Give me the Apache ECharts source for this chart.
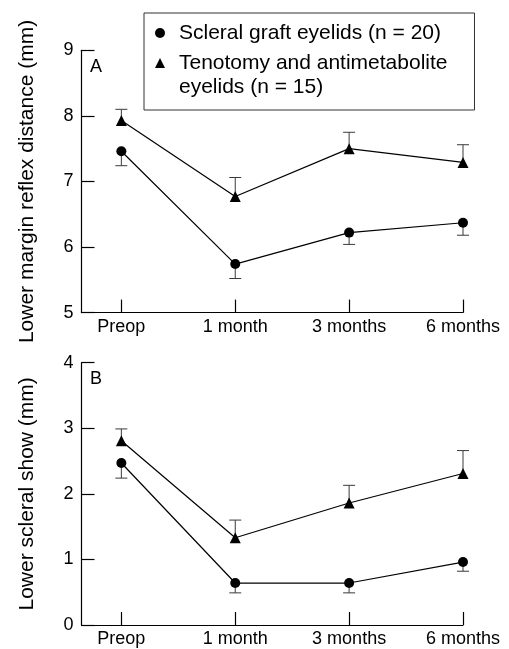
<!DOCTYPE html>
<html>
<head>
<meta charset="utf-8">
<script src="https://cdn.jsdelivr.net/npm/echarts@6/dist/echarts.min.js"></script>
<style>
html,body{margin:0;padding:0;background:#fff;}
#chart{width:509px;height:649px;}
</style>
</head>
<body>
<div id="chart"></div>
<script>
// Categories (time points)
const categories = ['Preop', '1 month', '3 months', '6 months'];
const seriesNames = ['Scleral graft eyelids (n = 20)', 'Tenotomy and antimetabolite\neyelids (n = 15)'];

// Panel A: lower margin reflex distance (mm)
const mrdScleral = [7.46, 5.74, 6.22, 6.37];
const mrdScleralErrLow = [7.24, 5.52, 6.04, 6.18];
const mrdTenotomy = [7.93, 6.77, 7.50, 7.29];
const mrdTenotomyErrHigh = [8.10, 7.06, 7.75, 7.56];

// Panel B: lower scleral show (mm)
const ssScleral = [2.47, 0.64, 0.64, 0.96];
const ssScleralErrLow = [2.24, 0.49, 0.49, 0.82];
const ssTenotomy = [2.81, 1.33, 1.86, 2.31];
const ssTenotomyErrHigh = [2.99, 1.60, 2.13, 2.66];

const tickValuesA = [5, 6, 7, 8, 9];
const tickValuesB = [0, 1, 2, 3, 4];

const FONT = '"Liberation Sans", Arial, Helvetica, sans-serif';
const chart = echarts.init(document.getElementById('chart'), null, {renderer: 'canvas'});

function pts(vals) { return vals.map((v, i) => [i, v]); }
function errPts(means, ends) { return means.map((v, i) => [i, v, ends[i]]); }

function errRender(params, api) {
  const x = api.value(0), m = api.value(1), e = api.value(2);
  const p0 = api.coord([x, m]);
  const p1 = api.coord([x, e]);
  const st = {stroke: '#3a3a3a', lineWidth: 1};
  return {
    type: 'group',
    children: [
      {type: 'line', shape: {x1: p0[0], y1: p0[1], x2: p1[0], y2: p1[1]}, style: st},
      {type: 'line', shape: {x1: p1[0] - 6, y1: p1[1], x2: p1[0] + 6, y2: p1[1]}, style: st}
    ]
  };
}

function xAxisDef(gridIndex) {
  return {
    type: 'value', gridIndex: gridIndex, min: -0.35, max: 3,
    splitLine: {show: false},
    axisLine: {show: true, onZero: false, lineStyle: {color: '#000', width: 1.2}},
    axisTick: {show: true, inside: true, length: 13, customValues: [0, 1, 2, 3], lineStyle: {color: '#000', width: 1.2}},
    axisLabel: {
      customValues: [0, 1, 2, 3], margin: 5,
      formatter: v => categories[Math.round(v)] || '',
      color: '#000', fontSize: 18, fontFamily: FONT
    }
  };
}

function yAxisDef(gridIndex, ticks, name) {
  return {
    type: 'value', gridIndex: gridIndex,
    min: ticks[0], max: ticks[ticks.length - 1], interval: 1,
    name: name, nameLocation: 'middle', nameGap: 44,
    nameTextStyle: {color: '#000', fontSize: 21, fontFamily: FONT},
    splitLine: {show: false},
    axisLine: {show: true, onZero: false, lineStyle: {color: '#000', width: 1.2}},
    axisTick: {show: true, inside: true, length: 13, lineStyle: {color: '#000', width: 1.2}},
    axisLabel: {margin: 8, color: '#000', fontSize: 18, fontFamily: FONT}
  };
}

function lineSeries(name, data, symbol, size, axisIdx) {
  return {
    type: 'line', name: name, data: pts(data),
    xAxisIndex: axisIdx, yAxisIndex: axisIdx,
    symbol: symbol, symbolSize: size, showSymbol: true, clip: false,
    lineStyle: {color: '#000', width: 1.2},
    itemStyle: {color: '#000'},
    z: 5, animation: false
  };
}

function errSeries(means, ends, axisIdx) {
  return {
    type: 'custom', renderItem: errRender,
    data: errPts(means, ends),
    encode: {x: 0, y: [1, 2]},
    xAxisIndex: axisIdx, yAxisIndex: axisIdx,
    z: 3, animation: false, silent: true
  };
}

const option = {
  animation: false,
  backgroundColor: '#fff',
  textStyle: {fontFamily: FONT},
  title: [
    {text: 'A', left: 85, top: 53, padding: 5, textStyle: {fontSize: 18, fontWeight: 'normal', color: '#000', fontFamily: FONT}},
    {text: 'B', left: 85, top: 365, padding: 5, textStyle: {fontSize: 18, fontWeight: 'normal', color: '#000', fontFamily: FONT}}
  ],
  legend: {
    left: 144, top: 13,
    orient: 'vertical',
    padding: [8, 27, 11, 11],
    itemWidth: 10, itemHeight: 10, itemGap: -18,
    borderColor: '#333', borderWidth: 1,
    selectedMode: false,
    // a blank first line puts the icon level with the first text line of the two-line entry
    formatter: name => (name.indexOf('\n') >= 0 ? '\n' + name : name),
    textStyle: {fontSize: 21, lineHeight: 24, color: '#000', fontFamily: FONT, padding: [0, 0, 0, 9]},
    data: [
      {name: seriesNames[0], icon: 'circle'},
      {name: seriesNames[1], icon: 'triangle'}
    ]
  },
  grid: [
    {left: 81.5, right: 46, top: 50.3, height: 262.3},
    {left: 81.5, right: 46, top: 362.7, height: 262.3}
  ],
  xAxis: [xAxisDef(0), xAxisDef(1)],
  yAxis: [
    yAxisDef(0, tickValuesA, 'Lower margin reflex distance (mm)'),
    yAxisDef(1, tickValuesB, 'Lower scleral show (mm)')
  ],
  series: [
    errSeries(mrdScleral, mrdScleralErrLow, 0),
    errSeries(mrdTenotomy, mrdTenotomyErrHigh, 0),
    lineSeries(seriesNames[0], mrdScleral, 'circle', 10, 0),
    lineSeries(seriesNames[1], mrdTenotomy, 'triangle', 11, 0),
    errSeries(ssScleral, ssScleralErrLow, 1),
    errSeries(ssTenotomy, ssTenotomyErrHigh, 1),
    lineSeries(seriesNames[0], ssScleral, 'circle', 10, 1),
    lineSeries(seriesNames[1], ssTenotomy, 'triangle', 11, 1)
  ]
};
chart.setOption(option);
</script>
</body>
</html>
